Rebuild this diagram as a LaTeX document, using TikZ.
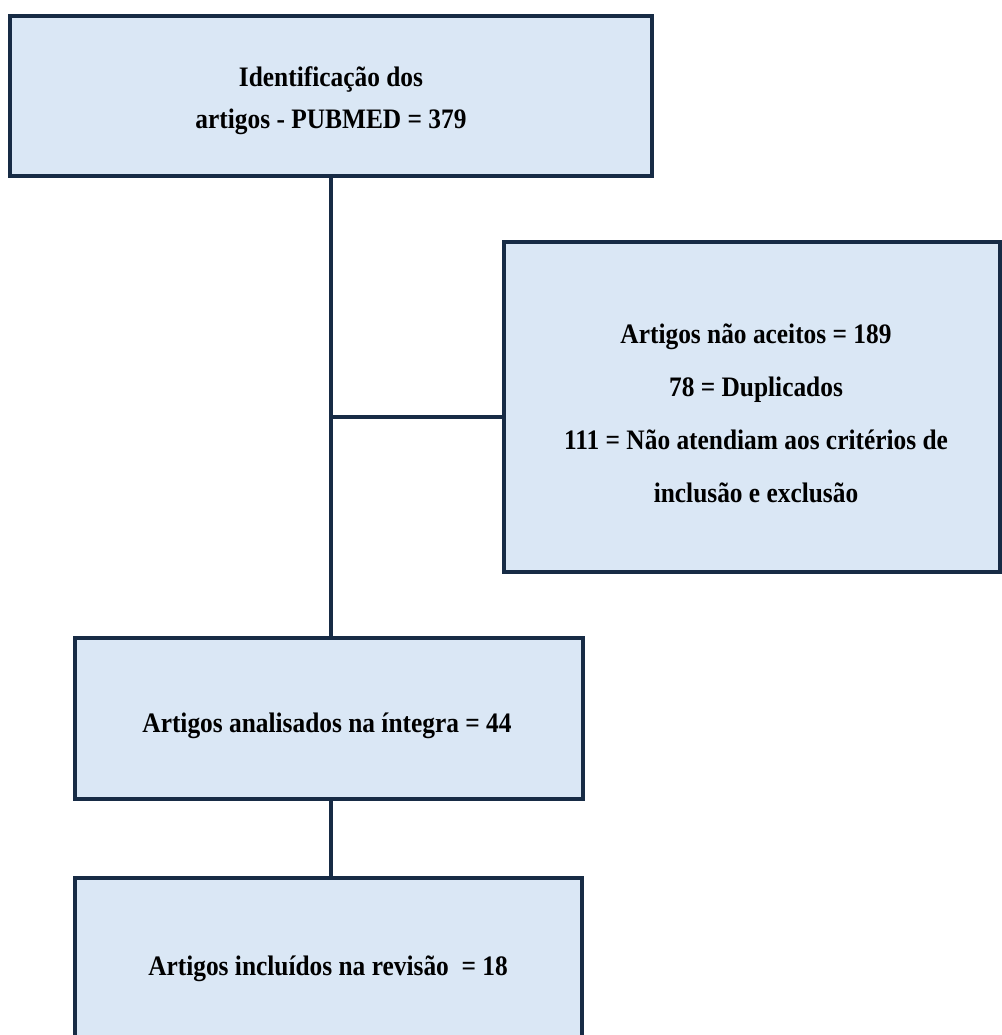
\documentclass[tikz,border=0pt]{standalone}
\usepackage{fontspec}
\setmainfont{Liberation Serif}[FakeStretch=0.9]
\definecolor{bord}{HTML}{172B45}
\definecolor{boxfill}{HTML}{DAE7F5}
\begin{document}
\begin{tikzpicture}[x=0.5pt,y=-0.5pt,
  box/.style={draw=bord, fill=boxfill, line width=1.6pt, inner sep=0pt},
  conn/.style={draw=bord, line width=1.6pt},
  lbl/.style={font=\bfseries\fontsize{14.1}{21}\selectfont, align=center, inner sep=0pt, text=black}]
\clip (0,0) rectangle (1002,1035);
\fill[white] (0,0) rectangle (1002,1035);
% boxes
\node[box, minimum width=321pt, minimum height=80pt] (top) at (331,96) {};
\node[box, minimum width=248pt, minimum height=165pt] (right) at (752,407) {};
\node[box, minimum width=254pt, minimum height=80.5pt] (mid) at (329,718.5) {};
\node[box, minimum width=253.5pt, minimum height=91pt] (bot) at (328.5,969) {};
% labels
\node[lbl] (toplbl) at (331,100.5) {Identificação dos\\artigos - PUBMED = 379};
\node[lbl, font=\bfseries\fontsize{14.1}{26.5}\selectfont] (rightlbl) at (756,413) {Artigos não aceitos = 189\\78 = Duplicados\\111 = Não atendiam aos critérios de\\inclusão e exclusão};
\node[lbl] (midlbl) at (327,726) {Artigos analisados na íntegra = 44};
\node[lbl] (botlbl) at (328,968.5) {Artigos incluídos na revisão~ = 18};
% connectors
\coordinate (j) at (331,417);
\draw[conn] (top.south) -- (top.south |- mid.north);
\draw[conn] (j) -- (right.west |- j);
\draw[conn] (mid.south -| top.south) -- (bot.north -| top.south);
\end{tikzpicture}
\end{document}
